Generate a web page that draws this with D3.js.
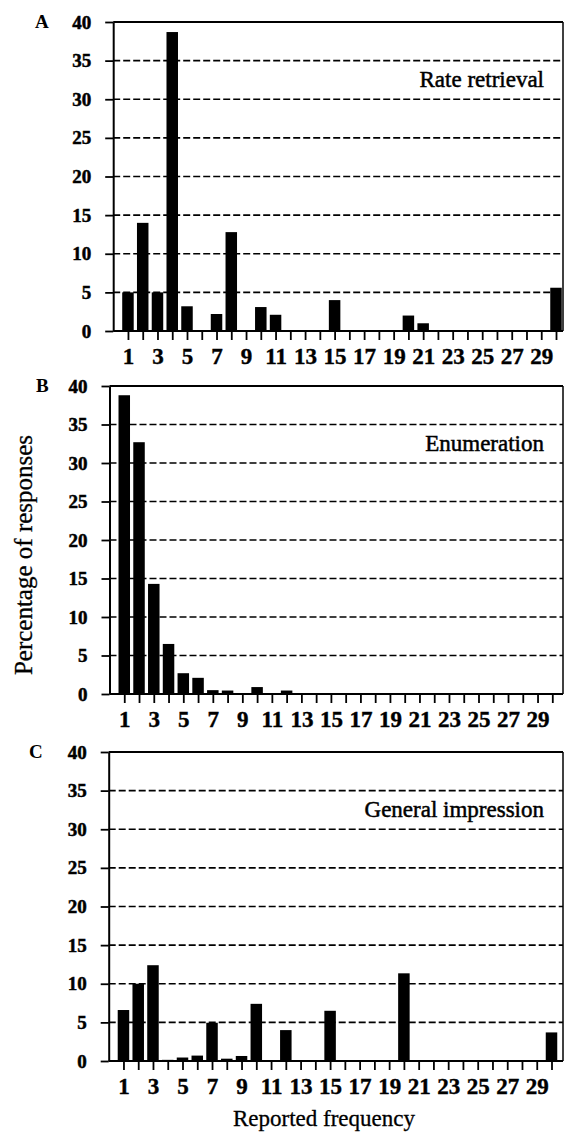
<!DOCTYPE html>
<html>
<head>
<meta charset="utf-8">
<script src="https://cdn.jsdelivr.net/npm/d3@7.9.0/dist/d3.min.js"></script>
<style>
  body { margin: 0; background: #fff; }
  svg { display: block; }
  text { font-family: "Liberation Serif", "Times New Roman", serif; fill: #000; }
</style>
</head>
<body>
<div id="chart"></div>
<script>
// reported frequency categories (x)
const reportedFrequency = [1, 2, 3, 4, 5, 6, 7, 8, 9, 10, 11, 12, 13, 14, 15,
  16, 17, 18, 19, 20, 21, 22, 23, 24, 25, 26, 27, 28, 29, 30];

// percentage of responses per category
const rateRetrieval = [5.0, 14.0, 5.0, 38.7, 3.2, 0, 2.2, 12.8, 0, 3.1, 2.1, 0, 0, 0, 4.0,
  0, 0, 0, 0, 2.0, 1.0, 0, 0, 0, 0, 0, 0, 0, 0, 5.6];
const enumeration = [38.8, 32.7, 14.3, 6.5, 2.7, 2.1, 0.5, 0.45, 0, 0.9, 0, 0.45, 0, 0, 0,
  0, 0, 0, 0, 0, 0, 0, 0, 0, 0, 0, 0, 0, 0, 0];
const generalImpression = [6.6, 10.0, 12.4, 0.15, 0.45, 0.7, 4.95, 0.3, 0.65, 7.4, 0, 4.0, 0, 0, 6.5,
  0, 0, 0, 0, 11.35, 0, 0, 0, 0, 0, 0, 0, 0, 0, 3.7];

const yTicks = [0, 5, 10, 15, 20, 25, 30, 35, 40];
const xTickLabels = [1, 3, 5, 7, 9, 11, 13, 15, 17, 19, 21, 23, 25, 27, 29];

const panelLetters = ['A', 'B', 'C'];
const panelTitles = ['Rate retrieval', 'Enumeration', 'General impression'];
const panelSeries = [rateRetrieval, enumeration, generalImpression];

// layout of each panel (pixels)
const layout = [
  { x0: 113.2, top: 22, bottom: 331, letterX: 35 },
  { x0: 109.5, top: 386, bottom: 694, letterX: 36 },
  { x0: 108.7, top: 752, bottom: 1061, letterX: 29 },
];

const width = 567;
const height = 1135;
const step = 14.76;
const right = 563;
const barWidth = 11.5;

const svg = d3.select('#chart')
  .append('svg')
  .attr('width', width)
  .attr('height', height);

panelSeries.forEach((values, i) => {
  const L = layout[i];
  const g = svg.append('g');

  const x = d3.scaleLinear()
    .domain([0, 30])
    .range([L.x0, L.x0 + 30 * step]);

  const y = d3.scaleLinear()
    .domain([0, 40])
    .range([L.bottom, L.top]);

  // dashed gridlines
  g.append('g')
    .selectAll('line')
    .data(yTicks.filter(v => v > 0 && v < 40))
    .join('line')
    .attr('x1', L.x0)
    .attr('x2', right)
    .attr('y1', d => y(d))
    .attr('y2', d => y(d))
    .attr('stroke', '#000')
    .attr('stroke-width', 1.6)
    .attr('stroke-dasharray', '7,3');

  // bars
  g.append('g')
    .selectAll('rect')
    .data(reportedFrequency.map((f, j) => ({ f, v: values[j] })).filter(d => d.v > 0))
    .join('rect')
    .attr('x', d => x(d.f) - barWidth / 2)
    .attr('y', d => y(d.v))
    .attr('width', barWidth)
    .attr('height', d => y(0) - y(d.v))
    .attr('fill', '#000');

  // frame: top, right, baseline
  g.append('line')
    .attr('x1', L.x0).attr('x2', right)
    .attr('y1', y(40)).attr('y2', y(40))
    .attr('stroke', '#000').attr('stroke-width', 2);
  g.append('line')
    .attr('x1', right).attr('x2', right)
    .attr('y1', y(40)).attr('y2', y(0))
    .attr('stroke', '#000').attr('stroke-width', 1.5);
  g.append('line')
    .attr('x1', L.x0).attr('x2', right)
    .attr('y1', y(0)).attr('y2', y(0))
    .attr('stroke', '#000').attr('stroke-width', 2);

  // y axis
  const yAxis = g.append('g')
    .attr('transform', `translate(${L.x0},0)`)
    .call(d3.axisLeft(y).tickValues(yTicks).tickSize(8).tickSizeOuter(0).tickPadding(14));
  yAxis.select('.domain').attr('stroke-width', 2);
  yAxis.selectAll('.tick line').attr('stroke-width', 1.8);
  yAxis.selectAll('.tick text')
    .attr('font-size', 19)
    .attr('font-weight', 'bold')
    .attr('stroke', '#000')
    .attr('stroke-width', 0.5);

  // x axis
  const xAxis = g.append('g')
    .attr('transform', `translate(0,${y(0)})`)
    .call(d3.axisBottom(x)
      .tickValues(reportedFrequency)
      .tickSize(9)
      .tickPadding(8)
      .tickFormat(d => xTickLabels.includes(d) ? d : ''));
  xAxis.select('.domain').remove();
  xAxis.selectAll('.tick line').attr('stroke-width', 1.8);
  xAxis.selectAll('.tick text')
    .attr('font-size', 23)
    .attr('font-weight', 'bold')
    .attr('stroke', '#000')
    .attr('stroke-width', 0.4);

  // panel letter
  g.append('text')
    .attr('x', L.letterX)
    .attr('y', y(40) + 6)
    .attr('font-size', 19)
    .attr('font-weight', 'bold')
    .text(panelLetters[i]);

  // panel title
  g.append('text')
    .attr('x', 544)
    .attr('y', y(32.5))
    .attr('text-anchor', 'end')
    .attr('dominant-baseline', 'central')
    .attr('font-size', 23)
    .attr('stroke', '#000')
    .attr('stroke-width', 0.5)
    .text(panelTitles[i]);
});

// axis titles
svg.append('text')
  .attr('transform', 'translate(23,555) rotate(-90)')
  .attr('text-anchor', 'middle')
  .attr('dominant-baseline', 'central')
  .attr('font-size', 25)
  .attr('stroke', '#000')
  .attr('stroke-width', 0.3)
  .text('Percentage of responses');

svg.append('text')
  .attr('x', 324)
  .attr('y', 1126)
  .attr('text-anchor', 'middle')
  .attr('font-size', 23)
  .attr('stroke', '#000')
  .attr('stroke-width', 0.3)
  .text('Reported frequency');
</script>
</body>
</html>
